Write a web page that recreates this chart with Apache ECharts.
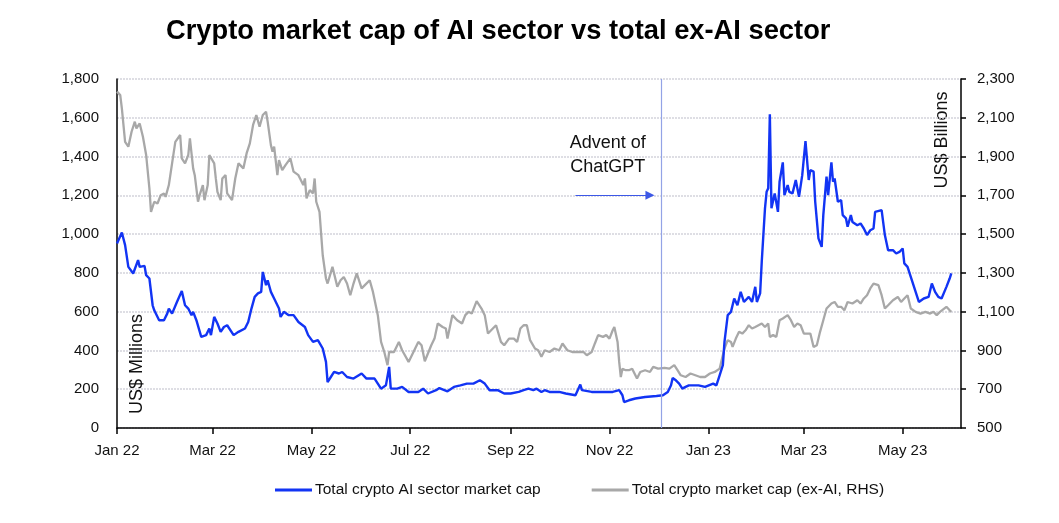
<!DOCTYPE html>
<html>
<head>
<meta charset="utf-8">
<script src="https://cdn.jsdelivr.net/npm/echarts@6/dist/echarts.min.js"></script>
<style>
html,body{margin:0;padding:0;background:#fff;}
#chart{width:1059px;height:523px;}
</style>
</head>
<body>
<div id="chart"></div>
<script>
// ---- Data ----
const titleText = 'Crypto market cap of AI sector vs total ex-AI sector';
const seriesNames = ['Total crypto AI sector market cap', 'Total crypto market cap (ex-AI, RHS)'];

const tickDates = ['2022-01-01','2022-03-01','2022-05-01','2022-07-01','2022-09-01','2022-11-01','2023-01-01','2023-03-01','2023-05-01'];
const tickLabels = ['Jan 22','Mar 22','May 22','Jul 22','Sep 22','Nov 22','Jan 23','Mar 23','May 23'];

const chatgptDate = '2022-12-03';
const annotationText = 'Advent of\nChatGPT';

const aiDates = ['2022-01-01','2022-01-04','2022-01-06','2022-01-08','2022-01-11','2022-01-14','2022-01-15','2022-01-18','2022-01-19','2022-01-21','2022-01-23','2022-01-24','2022-01-27','2022-01-30','2022-02-01','2022-02-02','2022-02-04','2022-02-07','2022-02-10','2022-02-12','2022-02-14','2022-02-16','2022-02-17','2022-02-19','2022-02-22','2022-02-25','2022-02-27','2022-02-28','2022-03-02','2022-03-04','2022-03-06','2022-03-08','2022-03-10','2022-03-14','2022-03-17','2022-03-21','2022-03-23','2022-03-25','2022-03-27','2022-03-29','2022-03-31','2022-04-01','2022-04-03','2022-04-04','2022-04-06','2022-04-08','2022-04-11','2022-04-12','2022-04-14','2022-04-17','2022-04-20','2022-04-23','2022-04-27','2022-04-29','2022-05-02','2022-05-05','2022-05-08','2022-05-10','2022-05-11','2022-05-13','2022-05-15','2022-05-18','2022-05-20','2022-05-23','2022-05-27','2022-06-01','2022-06-04','2022-06-09','2022-06-13','2022-06-16','2022-06-18','2022-06-19','2022-06-23','2022-06-26','2022-06-30','2022-07-06','2022-07-09','2022-07-12','2022-07-17','2022-07-19','2022-07-24','2022-07-28','2022-08-01','2022-08-05','2022-08-09','2022-08-13','2022-08-16','2022-08-19','2022-08-24','2022-08-28','2022-09-01','2022-09-06','2022-09-09','2022-09-12','2022-09-15','2022-09-17','2022-09-20','2022-09-22','2022-09-25','2022-10-01','2022-10-05','2022-10-11','2022-10-14','2022-10-15','2022-10-21','2022-10-28','2022-11-03','2022-11-07','2022-11-09','2022-11-10','2022-11-13','2022-11-17','2022-11-23','2022-11-30','2022-12-04','2022-12-07','2022-12-09','2022-12-10','2022-12-12','2022-12-14','2022-12-16','2022-12-18','2022-12-20','2022-12-26','2022-12-30','2023-01-04','2023-01-06','2023-01-08','2023-01-10','2023-01-11','2023-01-13','2023-01-15','2023-01-17','2023-01-19','2023-01-21','2023-01-23','2023-01-26','2023-01-28','2023-01-30','2023-01-31','2023-02-02','2023-02-03','2023-02-05','2023-02-06','2023-02-07','2023-02-08','2023-02-09','2023-02-11','2023-02-13','2023-02-14','2023-02-16','2023-02-17','2023-02-19','2023-02-20','2023-02-22','2023-02-24','2023-02-26','2023-02-28','2023-03-02','2023-03-04','2023-03-05','2023-03-07','2023-03-08','2023-03-10','2023-03-12','2023-03-13','2023-03-15','2023-03-16','2023-03-18','2023-03-19','2023-03-20','2023-03-22','2023-03-24','2023-03-25','2023-03-27','2023-03-28','2023-03-30','2023-03-31','2023-04-03','2023-04-05','2023-04-07','2023-04-09','2023-04-11','2023-04-13','2023-04-14','2023-04-18','2023-04-20','2023-04-22','2023-04-25','2023-04-27','2023-04-29','2023-05-01','2023-05-02','2023-05-04','2023-05-06','2023-05-09','2023-05-11','2023-05-14','2023-05-17','2023-05-19','2023-05-21','2023-05-23','2023-05-25','2023-05-28','2023-05-30','2023-05-31'];
const aiValues = [952,1008,943,831,797,866,831,836,788,771,633,607,556,556,590,616,590,650,706,633,616,582,599,556,470,479,513,479,573,539,496,521,530,479,496,513,547,616,676,694,702,805,737,762,702,668,616,573,599,582,582,547,521,479,444,453,410,341,237,263,289,281,289,263,255,281,255,255,203,220,315,203,203,212,186,186,203,178,195,206,189,212,220,229,229,246,229,195,195,178,178,186,195,203,195,203,186,195,186,186,178,169,224,195,186,186,186,195,169,134,143,152,160,165,169,186,220,258,246,229,203,212,220,220,212,229,220,272,324,444,582,599,668,633,702,650,676,650,728,650,694,857,1133,1218,1236,1618,1133,1210,1115,1270,1370,1201,1253,1218,1210,1279,1192,1304,1480,1279,1330,1322,1167,978,934,1098,1296,1201,1370,1270,1287,1167,1175,1098,1081,1038,1098,1063,1046,1055,1029,995,1020,1029,1115,1124,995,917,917,900,908,926,849,831,779,702,650,668,676,745,702,676,668,728,771,797];

const exDates = ['2022-01-01','2022-01-03','2022-01-04','2022-01-06','2022-01-08','2022-01-10','2022-01-12','2022-01-13','2022-01-15','2022-01-17','2022-01-19','2022-01-21','2022-01-22','2022-01-24','2022-01-26','2022-01-28','2022-01-30','2022-01-31','2022-02-02','2022-02-04','2022-02-06','2022-02-09','2022-02-10','2022-02-12','2022-02-14','2022-02-15','2022-02-17','2022-02-18','2022-02-20','2022-02-21','2022-02-23','2022-02-24','2022-02-26','2022-02-27','2022-03-02','2022-03-03','2022-03-04','2022-03-06','2022-03-07','2022-03-09','2022-03-10','2022-03-13','2022-03-15','2022-03-17','2022-03-20','2022-03-22','2022-03-24','2022-03-26','2022-03-28','2022-03-30','2022-04-01','2022-04-03','2022-04-04','2022-04-06','2022-04-07','2022-04-08','2022-04-10','2022-04-11','2022-04-13','2022-04-15','2022-04-18','2022-04-20','2022-04-23','2022-04-26','2022-04-27','2022-04-28','2022-04-30','2022-05-02','2022-05-03','2022-05-04','2022-05-06','2022-05-08','2022-05-10','2022-05-11','2022-05-14','2022-05-17','2022-05-19','2022-05-21','2022-05-23','2022-05-25','2022-05-27','2022-05-29','2022-06-01','2022-06-03','2022-06-06','2022-06-08','2022-06-11','2022-06-13','2022-06-15','2022-06-17','2022-06-18','2022-06-21','2022-06-24','2022-06-26','2022-06-30','2022-07-03','2022-07-06','2022-07-08','2022-07-10','2022-07-14','2022-07-16','2022-07-18','2022-07-21','2022-07-23','2022-07-24','2022-07-27','2022-07-30','2022-08-02','2022-08-04','2022-08-06','2022-08-08','2022-08-11','2022-08-14','2022-08-16','2022-08-18','2022-08-21','2022-08-23','2022-08-26','2022-08-28','2022-08-31','2022-09-03','2022-09-05','2022-09-07','2022-09-09','2022-09-11','2022-09-13','2022-09-16','2022-09-18','2022-09-20','2022-09-22','2022-09-25','2022-09-28','2022-10-01','2022-10-03','2022-10-06','2022-10-09','2022-10-13','2022-10-16','2022-10-18','2022-10-21','2022-10-23','2022-10-25','2022-10-28','2022-10-30','2022-11-01','2022-11-03','2022-11-04','2022-11-06','2022-11-07','2022-11-08','2022-11-09','2022-11-11','2022-11-13','2022-11-15','2022-11-18','2022-11-20','2022-11-23','2022-11-26','2022-11-28','2022-12-01','2022-12-05','2022-12-08','2022-12-11','2022-12-13','2022-12-15','2022-12-18','2022-12-21','2022-12-24','2022-12-27','2022-12-30','2023-01-02','2023-01-05','2023-01-08','2023-01-09','2023-01-11','2023-01-13','2023-01-15','2023-01-16','2023-01-18','2023-01-20','2023-01-22','2023-01-24','2023-01-26','2023-01-28','2023-01-30','2023-02-01','2023-02-03','2023-02-05','2023-02-07','2023-02-08','2023-02-10','2023-02-12','2023-02-14','2023-02-16','2023-02-19','2023-02-21','2023-02-23','2023-02-25','2023-02-27','2023-03-01','2023-03-05','2023-03-07','2023-03-09','2023-03-11','2023-03-13','2023-03-15','2023-03-18','2023-03-20','2023-03-22','2023-03-24','2023-03-26','2023-03-28','2023-03-31','2023-04-03','2023-04-05','2023-04-07','2023-04-09','2023-04-11','2023-04-13','2023-04-16','2023-04-18','2023-04-20','2023-04-22','2023-04-25','2023-04-28','2023-04-30','2023-05-02','2023-05-04','2023-05-06','2023-05-09','2023-05-12','2023-05-15','2023-05-18','2023-05-20','2023-05-22','2023-05-24','2023-05-28','2023-05-30','2023-05-31'];
const exValues = [2235,2217,2149,1976,1951,2028,2080,2045,2071,2002,1908,1736,1615,1667,1658,1701,1710,1692,1753,1865,1976,2011,1891,1865,1908,1994,1839,1804,1667,1701,1753,1675,1753,1908,1865,1787,1718,1675,1787,1804,1710,1675,1787,1865,1839,1916,1968,2063,2114,2054,2114,2131,2080,1959,1925,1951,1804,1882,1830,1856,1891,1822,1804,1753,1787,1684,1727,1710,1787,1667,1615,1391,1271,1245,1331,1228,1262,1279,1245,1185,1245,1297,1220,1237,1262,1202,1082,944,892,824,892,892,944,901,841,892,944,927,844,927,961,1039,1021,1013,961,1082,1056,1039,1082,1099,1090,1154,1116,1082,987,1013,1030,944,927,961,961,944,1013,1030,1030,953,910,901,867,901,892,910,901,936,901,892,892,892,875,892,936,979,970,979,961,1004,1021,944,841,763,806,798,798,806,755,789,798,789,815,806,810,806,824,798,772,763,781,772,763,763,781,789,806,841,910,953,944,918,961,996,987,1004,1030,1013,1021,1030,1039,1021,1039,970,979,970,1056,1065,1082,1056,1021,1039,1030,987,987,918,927,996,1056,1116,1142,1150,1125,1125,1107,1150,1142,1159,1142,1168,1185,1220,1245,1237,1185,1116,1133,1159,1176,1150,1168,1185,1116,1099,1090,1099,1090,1099,1082,1099,1125,1107,1099];

// ---- Build ----
const T = s => echarts.number.parseDate(s).getTime();
const tickTimes = tickDates.map(T);
const aiData = aiDates.map((d, i) => [T(d), aiValues[i]]);
const exData = exDates.map((d, i) => [T(d), exValues[i]]);

const FONT = '"Liberation Sans", Arial, sans-serif';
const BLUE = '#1234f4';
const GREY = '#a8a8a8';

const chart = echarts.init(document.getElementById('chart'), null, {renderer: 'canvas'});
chart.setOption({
  animation: false,
  backgroundColor: '#fff',
  title: {
    text: titleText,
    left: 161, top: 13,
    textStyle: {fontFamily: FONT, fontWeight: 'bold', fontSize: 27.3, color: '#000'}
  },
  legend: {
    data: seriesNames,
    left: 270, top: 477,
    icon: 'rect', itemWidth: 37, itemHeight: 3, itemGap: 51,
    textStyle: {fontFamily: FONT, fontSize: 15.5, color: '#111', padding: [0, 0, 0, -2]}
  },
  grid: {left: 117, right: 98, top: 79, bottom: 95, containLabel: false},
  xAxis: {
    type: 'value',
    min: T('2022-01-01'),
    max: T('2023-06-06'),
    axisLine: {show: true, onZero: false, lineStyle: {color: '#000', width: 1.5}},
    axisTick: {show: true, customValues: tickTimes, length: 6, lineStyle: {color: '#000', width: 1.5}},
    axisLabel: {
      customValues: tickTimes,
      formatter: v => { const i = tickTimes.indexOf(v); return i >= 0 ? tickLabels[i] : ''; },
      fontFamily: FONT, fontSize: 15, color: '#111', margin: 15,
      hideOverlap: false, showMinLabel: true, showMaxLabel: true
    },
    splitLine: {show: false}
  },
  yAxis: [
    {
      type: 'value', min: 0, max: 1800, interval: 200, position: 'left',
      axisLine: {show: true, lineStyle: {color: '#000', width: 1.5}},
      axisTick: {show: false},
      axisLabel: {formatter: v => v.toLocaleString('en-US'), fontFamily: FONT, fontSize: 15, color: '#111', margin: 18},
      splitLine: {show: true, lineStyle: {color: '#d3d3dc', width: 1.5, type: [2, 1]}}
    },
    {
      type: 'value', min: 500, max: 2300, interval: 200, position: 'right',
      axisLine: {show: true, lineStyle: {color: '#000', width: 1.5}},
      axisTick: {show: true, inside: false, length: 5, lineStyle: {color: '#000', width: 1.5}},
      axisLabel: {formatter: v => v.toLocaleString('en-US'), fontFamily: FONT, fontSize: 15, color: '#111', margin: 16},
      splitLine: {show: false}
    }
  ],
  series: [
    {
      name: seriesNames[1], type: 'line', yAxisIndex: 1, data: exData,
      showSymbol: false, symbol: 'none', color: GREY,
      lineStyle: {color: GREY, width: 2.3}, z: 2
    },
    {
      name: seriesNames[0], type: 'line', yAxisIndex: 0, data: aiData,
      showSymbol: false, symbol: 'none', color: BLUE,
      lineStyle: {color: BLUE, width: 2.4}, z: 3,
      markLine: {
        silent: true, symbol: ['none', 'none'], animation: false,
        label: {show: false},
        data: [
          {xAxis: T(chatgptDate), lineStyle: {color: '#93a3e6', width: 1.2, type: 'solid'}},
          [
            {coord: [T('2022-10-11'), 1200], symbol: 'none', lineStyle: {color: '#3d58e6', width: 1, type: 'solid'}},
            {coord: [T('2022-11-26'), 1200], symbol: 'triangle', symbolSize: [9, 9]}
          ]
        ]
      },
      markPoint: {
        silent: true, animation: false,
        data: [{
          coord: [T('2022-10-31'), 1408], symbol: 'circle', symbolSize: 1,
          itemStyle: {color: 'rgba(0,0,0,0)'},
          label: {show: true, position: 'inside', formatter: annotationText, fontFamily: FONT, fontSize: 18, lineHeight: 24, color: '#111', align: 'center'}
        }]
      }
    }
  ],
  graphic: [
    {type: 'text', x: 137, y: 364, rotation: Math.PI / 2, silent: true,
     style: {text: 'US$ Millions', align: 'center', verticalAlign: 'middle', font: '18px ' + FONT, fill: '#111'}},
    {type: 'text', x: 942, y: 140, rotation: Math.PI / 2, silent: true,
     style: {text: 'US$ Billions', align: 'center', verticalAlign: 'middle', font: '18px ' + FONT, fill: '#111'}}
  ]
});
</script>
</body>
</html>
